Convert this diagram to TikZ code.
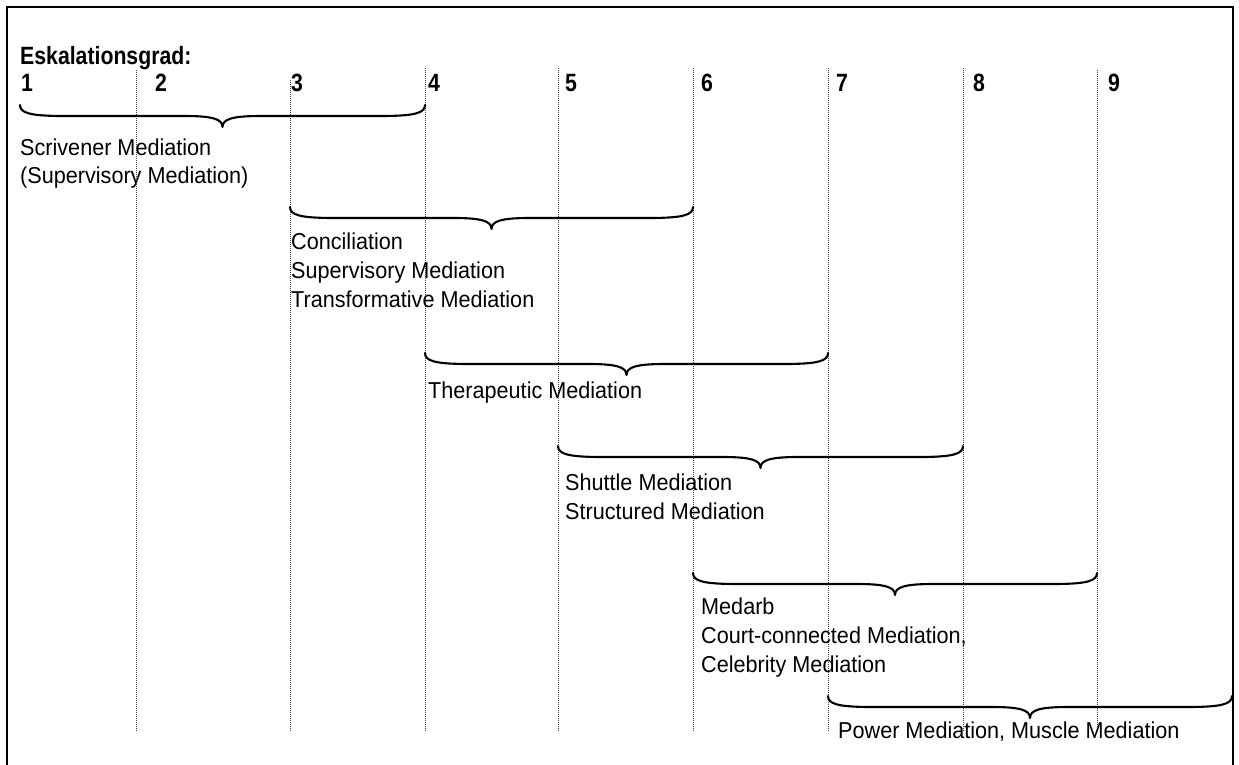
\documentclass[tikz,border=0pt]{standalone}
\usepackage{fontspec}
\setmainfont{Liberation Sans}
\newfontfamily\regf{Liberation Sans}[FakeStretch=0.94]
\newfontfamily\boldnf{Liberation Sans}[FakeStretch=0.85]
\newcommand{\mybrace}[4]{% name, xL, xR, y0
  \coordinate (#1L) at (#2,#4);
  \coordinate (#1R) at (#3,#4);
  \coordinate (#1T) at ({(#2+#3)/2},#4+22);
  \draw[bracestyle] (#1L) .. controls (#2,#4+8) and (#2+10,#4+11) .. (#2+44,#4+11)
    -- ({(#2+#3)/2-38},#4+11) .. controls ({(#2+#3)/2-10},#4+11) and ({(#2+#3)/2},#4+14) .. (#1T)
    .. controls ({(#2+#3)/2},#4+14) and ({(#2+#3)/2+10},#4+11) .. ({(#2+#3)/2+38},#4+11)
    -- (#3-44,#4+11) .. controls (#3-10,#4+11) and (#3,#4+8) .. (#1R);
}
\begin{document}
\begin{tikzpicture}[x=1pt,y=-1pt,
  bracestyle/.style={line width=2.1pt, line cap=round, line join=round},
  guide/.style={line width=0.8pt, black!75, dash pattern=on 1pt off 1pt},
  lbl/.style={anchor=base west, inner sep=0pt, font=\regf\fontsize{23}{27}\selectfont},
  num/.style={anchor=base west, inner sep=0pt, font=\boldnf\bfseries\fontsize{25}{29}\selectfont}]
\useasboundingbox (0,0) rectangle (1239,765);
% frame
\draw[line width=2.5pt] (7,765) -- (7,7) -- (1233,7) -- (1233,765);
% guide lines
\foreach \gx/\gt [count=\i] in {136/70,290/80,425/68,558/68,693/68,828/68,963/68,1097/70}{
  \coordinate (g\i top) at (\gx,\gt);
  \coordinate (g\i bot) at (\gx,732);
  \draw[guide] (g\i top) -- (g\i bot);
}
% header
\node[num] (title) at (20,65) {Eskalationsgrad:};
\foreach \nx [count=\n] in {21,155,291,428,565,701,836,973,1108}{
  \node[num] (n\n) at (\nx,92) {\n};
}
% braces
\mybrace{b1}{20}{425}{105}
\mybrace{b2}{290}{693}{207}
\mybrace{b3}{425}{828}{353}
\mybrace{b4}{558}{963}{446}
\mybrace{b5}{693}{1097}{573}
\mybrace{b6}{828}{1232}{696}
% labels
\node[lbl] (t1a) at (20,155) {Scrivener Mediation};
\node[lbl] (t1b) at (20,183) {(Supervisory Mediation)};
\node[lbl] (t2a) at (291,249) {Conciliation};
\node[lbl] (t2b) at (291,278) {Supervisory Mediation};
\node[lbl] (t2c) at (291,307) {Transformative Mediation};
\node[lbl] (t3a) at (428,398) {Therapeutic Mediation};
\node[lbl] (t4a) at (565,490) {Shuttle Mediation};
\node[lbl] (t4b) at (565,519) {Structured Mediation};
\node[lbl] (t5a) at (701,614) {Medarb};
\node[lbl] (t5b) at (701,643) {Court-connected Mediation,};
\node[lbl] (t5c) at (701,672) {Celebrity Mediation};
\node[lbl] (t6a) at (838,738) {Power Mediation, Muscle Mediation};
\end{tikzpicture}
\end{document}
